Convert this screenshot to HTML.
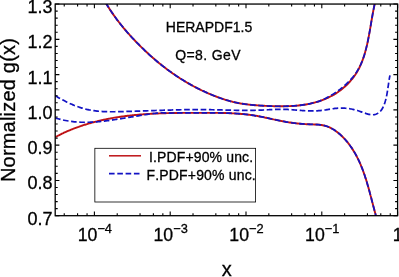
<!DOCTYPE html>
<html><head><meta charset="utf-8"><title>plot</title>
<style>html,body{margin:0;padding:0;background:#fff;}body{width:399px;height:277px;overflow:hidden;position:relative;font-family:"Liberation Sans",sans-serif;}</style>
</head><body>
<svg width="399" height="277" viewBox="0 0 399 277" style="position:absolute;left:0;top:0;will-change:transform">
<defs><clipPath id="c"><rect x="55.2" y="4.05" width="342.40000000000003" height="211.64999999999998"/></clipPath></defs>
<g clip-path="url(#c)" fill="none" stroke-linejoin="round">
<path d="M104.36,0.39C104.49,0.61 104.88,1.29 105.14,1.74C105.40,2.19 105.66,2.64 105.92,3.08C106.19,3.53 106.45,3.97 106.72,4.41C106.98,4.85 107.25,5.29 107.52,5.72C107.78,6.16 108.05,6.59 108.32,7.02C108.60,7.46 108.87,7.89 109.14,8.31C109.41,8.74 109.69,9.17 109.96,9.59C110.24,10.01 110.52,10.44 110.80,10.86C111.07,11.28 111.35,11.69 111.64,12.11C111.92,12.53 112.20,12.94 112.48,13.35C112.77,13.77 113.05,14.18 113.34,14.59C113.62,15.00 113.91,15.40 114.20,15.81C114.49,16.21 114.78,16.62 115.07,17.02C115.36,17.42 115.66,17.82 115.95,18.22C116.24,18.62 116.54,19.02 116.84,19.42C117.13,19.81 117.43,20.21 117.73,20.60C118.03,20.99 118.33,21.39 118.63,21.78C118.93,22.17 119.23,22.56 119.54,22.94C119.84,23.33 120.15,23.72 120.45,24.10C120.76,24.49 121.07,24.87 121.38,25.26C121.68,25.64 121.99,26.02 122.31,26.40C122.62,26.78 122.93,27.16 123.24,27.54C123.56,27.91 123.87,28.29 124.19,28.67C124.50,29.04 124.82,29.42 125.14,29.79C125.46,30.16 125.78,30.54 126.10,30.91C126.42,31.28 126.74,31.65 127.07,32.02C127.39,32.39 127.71,32.76 128.04,33.13C128.36,33.49 128.69,33.86 129.02,34.23C129.35,34.59 129.68,34.96 130.01,35.33C130.34,35.69 130.67,36.05 131.00,36.42C131.33,36.78 131.67,37.14 132.00,37.51C132.34,37.87 132.67,38.23 133.01,38.59C133.35,38.95 133.69,39.31 134.03,39.67C134.37,40.03 134.71,40.39 135.05,40.75C135.39,41.11 135.73,41.46 136.08,41.82C136.42,42.18 136.77,42.53 137.11,42.89C137.46,43.24 137.81,43.60 138.16,43.95C138.51,44.31 138.85,44.66 139.21,45.01C139.56,45.36 139.91,45.72 140.26,46.07C140.61,46.42 140.97,46.77 141.32,47.12C141.68,47.47 142.04,47.82 142.39,48.16C142.75,48.51 143.11,48.86 143.47,49.20C143.83,49.55 144.19,49.90 144.55,50.24C144.91,50.58 145.27,50.93 145.64,51.27C146.00,51.61 146.37,51.95 146.73,52.29C147.10,52.64 147.47,52.97 147.83,53.31C148.20,53.65 148.57,53.99 148.94,54.33C149.31,54.66 149.68,55.00 150.06,55.33C150.43,55.67 150.80,56.00 151.18,56.34C151.55,56.67 151.93,57.00 152.30,57.33C152.68,57.66 153.06,57.99 153.44,58.32C153.81,58.65 154.19,58.98 154.57,59.30C154.95,59.63 155.34,59.95 155.72,60.28C156.10,60.60 156.49,60.93 156.87,61.25C157.25,61.57 157.64,61.89 158.03,62.21C158.41,62.53 158.80,62.85 159.19,63.16C159.58,63.48 159.97,63.80 160.36,64.11C160.75,64.43 161.14,64.74 161.53,65.05C161.93,65.37 162.32,65.68 162.71,65.99C163.11,66.30 163.50,66.60 163.90,66.91C164.30,67.22 164.69,67.52 165.09,67.83C165.49,68.13 165.89,68.44 166.29,68.74C166.69,69.04 167.09,69.34 167.49,69.64C167.90,69.94 168.30,70.24 168.70,70.53C169.11,70.83 169.51,71.12 169.92,71.42C170.32,71.71 170.73,72.00 171.14,72.29C171.55,72.59 171.96,72.87 172.37,73.16C172.78,73.45 173.19,73.74 173.60,74.02C174.01,74.31 174.42,74.59 174.83,74.87C175.25,75.15 175.66,75.43 176.08,75.71C176.49,75.99 176.91,76.27 177.33,76.54C177.74,76.82 178.16,77.09 178.58,77.37C179.00,77.64 179.42,77.91 179.84,78.18C180.26,78.45 180.68,78.72 181.10,78.98C181.52,79.25 181.95,79.51 182.37,79.77C182.79,80.04 183.22,80.30 183.65,80.56C184.07,80.82 184.50,81.08 184.93,81.33C185.35,81.59 185.78,81.84 186.21,82.10C186.64,82.35 187.07,82.60 187.50,82.85C187.93,83.10 188.36,83.35 188.80,83.59C189.23,83.84 189.66,84.08 190.10,84.33C190.53,84.57 190.96,84.81 191.40,85.05C191.84,85.29 192.27,85.53 192.71,85.77C193.15,86.00 193.59,86.24 194.02,86.47C194.46,86.70 194.90,86.94 195.34,87.17C195.79,87.40 196.23,87.62 196.67,87.85C197.11,88.08 197.55,88.30 198.00,88.53C198.44,88.75 198.89,88.97 199.33,89.19C199.78,89.41 200.22,89.63 200.67,89.85C201.12,90.06 201.57,90.28 202.01,90.49C202.46,90.71 202.91,90.92 203.36,91.13C203.81,91.34 204.26,91.55 204.71,91.75C205.17,91.96 205.62,92.16 206.07,92.37C206.53,92.57 206.98,92.77 207.43,92.97C207.89,93.17 208.34,93.37 208.80,93.57C209.26,93.77 209.71,93.96 210.17,94.16C210.63,94.35 211.09,94.54 211.54,94.73C212.00,94.92 212.46,95.11 212.92,95.30C213.38,95.48 213.85,95.67 214.31,95.85C214.77,96.03 215.23,96.21 215.69,96.39C216.16,96.57 216.62,96.75 217.09,96.92C217.55,97.10 218.02,97.27 218.48,97.44C218.95,97.61 219.42,97.78 219.88,97.95C220.35,98.11 220.82,98.28 221.29,98.44C221.76,98.60 222.23,98.76 222.70,98.91C223.17,99.07 223.64,99.22 224.11,99.38C224.58,99.53 225.05,99.68 225.52,99.82C226.00,99.97 226.47,100.11 226.94,100.25C227.42,100.39 227.89,100.53 228.37,100.67C228.84,100.80 229.32,100.93 229.80,101.06C230.27,101.19 230.75,101.32 231.23,101.44C231.71,101.57 232.18,101.69 232.66,101.80C233.14,101.92 233.62,102.04 234.10,102.15C234.58,102.26 235.06,102.36 235.55,102.47C236.03,102.57 236.51,102.67 236.99,102.77C237.47,102.87 237.96,102.97 238.44,103.06C238.93,103.15 239.41,103.24 239.90,103.33C240.38,103.41 240.87,103.50 241.35,103.58C241.84,103.66 242.33,103.73 242.81,103.81C243.30,103.88 243.79,103.96 244.28,104.03C244.77,104.10 245.26,104.17 245.75,104.23C246.24,104.30 246.73,104.36 247.22,104.42C247.71,104.48 248.20,104.54 248.69,104.60C249.18,104.65 249.67,104.71 250.17,104.76C250.66,104.81 251.15,104.86 251.65,104.91C252.14,104.96 252.64,105.00 253.13,105.05C253.63,105.09 254.12,105.14 254.62,105.18C255.12,105.22 255.61,105.26 256.11,105.30C256.61,105.33 257.11,105.37 257.60,105.41C258.10,105.44 258.60,105.47 259.10,105.51C259.60,105.54 260.10,105.57 260.60,105.60C261.10,105.63 261.60,105.66 262.10,105.69C262.60,105.72 263.10,105.74 263.61,105.77C264.11,105.79 264.61,105.82 265.11,105.84C265.62,105.87 266.12,105.89 266.63,105.91C267.13,105.94 267.63,105.96 268.14,105.98C268.64,106.00 269.15,106.02 269.66,106.04C270.16,106.06 270.67,106.08 271.17,106.10C271.68,106.12 272.19,106.13 272.69,106.15C273.20,106.16 273.71,106.18 274.21,106.19C274.72,106.20 275.23,106.22 275.74,106.23C276.24,106.24 276.75,106.25 277.26,106.25C277.77,106.26 278.28,106.27 278.78,106.27C279.29,106.28 279.80,106.28 280.31,106.28C280.81,106.29 281.32,106.29 281.83,106.29C282.34,106.28 282.84,106.28 283.35,106.28C283.86,106.27 284.37,106.26 284.87,106.25C285.38,106.25 285.89,106.23 286.39,106.22C286.90,106.21 287.41,106.19 287.91,106.18C288.42,106.16 288.92,106.14 289.43,106.12C289.93,106.10 290.44,106.07 290.94,106.05C291.44,106.02 291.95,105.99 292.45,105.96C292.95,105.93 293.46,105.90 293.96,105.86C294.46,105.83 294.96,105.79 295.46,105.75C295.96,105.71 296.46,105.66 296.96,105.62C297.46,105.57 297.96,105.52 298.46,105.47C298.96,105.42 299.46,105.36 299.95,105.30C300.45,105.25 300.94,105.18 301.44,105.12C301.93,105.06 302.43,104.99 302.92,104.92C303.41,104.85 303.91,104.77 304.40,104.70C304.89,104.62 305.38,104.54 305.87,104.46C306.36,104.37 306.85,104.29 307.33,104.20C307.82,104.11 308.31,104.01 308.79,103.92C309.28,103.82 309.76,103.72 310.24,103.61C310.72,103.51 311.21,103.40 311.68,103.29C312.16,103.18 312.64,103.06 313.12,102.95C313.60,102.83 314.07,102.70 314.55,102.58C315.02,102.45 315.50,102.32 315.97,102.19C316.44,102.05 316.91,101.92 317.38,101.78C317.85,101.63 318.32,101.49 318.78,101.34C319.25,101.19 319.71,101.04 320.17,100.88C320.64,100.72 321.10,100.56 321.56,100.39C322.02,100.23 322.48,100.06 322.93,99.88C323.39,99.71 323.84,99.53 324.29,99.35C324.75,99.17 325.20,98.98 325.65,98.79C326.09,98.60 326.54,98.40 326.99,98.20C327.43,98.00 327.88,97.80 328.32,97.59C328.76,97.38 329.20,97.17 329.63,96.95C330.07,96.73 330.51,96.51 330.94,96.28C331.37,96.05 331.80,95.82 332.23,95.59C332.66,95.35 333.09,95.11 333.51,94.86C333.94,94.62 334.36,94.37 334.78,94.11C335.20,93.86 335.62,93.59 336.04,93.33C336.45,93.06 336.87,92.79 337.28,92.52C337.69,92.24 338.10,91.96 338.50,91.68C338.91,91.39 339.31,91.11 339.71,90.81C340.11,90.52 340.51,90.22 340.91,89.91C341.30,89.61 341.69,89.30 342.08,88.99C342.47,88.68 342.86,88.36 343.24,88.04C343.62,87.72 344.00,87.39 344.38,87.06C344.75,86.73 345.13,86.39 345.50,86.05C345.86,85.72 346.23,85.37 346.59,85.02C346.95,84.68 347.31,84.33 347.66,83.97C348.02,83.62 348.36,83.26 348.71,82.89C349.05,82.53 349.40,82.16 349.73,81.79C350.07,81.42 350.40,81.05 350.73,80.67C351.06,80.29 351.38,79.91 351.70,79.52C352.01,79.14 352.33,78.75 352.64,78.36C352.95,77.97 353.25,77.57 353.55,77.17C353.85,76.77 354.14,76.37 354.43,75.96C354.71,75.56 355.00,75.15 355.27,74.74C355.55,74.33 355.82,73.91 356.09,73.49C356.36,73.07 356.62,72.65 356.87,72.23C357.13,71.81 357.38,71.38 357.62,70.95C357.86,70.52 358.10,70.09 358.34,69.65C358.57,69.22 358.80,68.78 359.02,68.34C359.25,67.90 359.47,67.46 359.68,67.01C359.90,66.56 360.11,66.12 360.31,65.67C360.52,65.22 360.72,64.76 360.92,64.31C361.11,63.85 361.31,63.40 361.50,62.94C361.68,62.48 361.87,62.02 362.05,61.55C362.23,61.09 362.41,60.62 362.58,60.16C362.75,59.69 362.92,59.22 363.09,58.75C363.25,58.28 363.41,57.81 363.57,57.33C363.73,56.86 363.89,56.38 364.04,55.90C364.19,55.42 364.34,54.94 364.49,54.46C364.63,53.98 364.77,53.50 364.92,53.01C365.06,52.53 365.19,52.05 365.33,51.56C365.46,51.07 365.59,50.58 365.72,50.10C365.85,49.61 365.98,49.12 366.11,48.62C366.23,48.13 366.35,47.64 366.47,47.15C366.60,46.65 366.71,46.16 366.83,45.66C366.95,45.17 367.06,44.67 367.17,44.18C367.28,43.68 367.39,43.18 367.50,42.68C367.61,42.19 367.72,41.69 367.82,41.19C367.93,40.69 368.03,40.19 368.13,39.69C368.23,39.19 368.33,38.69 368.43,38.19C368.53,37.68 368.63,37.18 368.73,36.68C368.82,36.18 368.92,35.68 369.01,35.18C369.10,34.67 369.20,34.17 369.29,33.67C369.38,33.17 369.47,32.67 369.56,32.16C369.65,31.66 369.74,31.16 369.83,30.66C369.91,30.16 370.00,29.66 370.09,29.15C370.17,28.65 370.26,28.15 370.35,27.65C370.43,27.15 370.52,26.65 370.60,26.15C370.68,25.65 370.77,25.16 370.85,24.66C370.94,24.16 371.02,23.66 371.10,23.17C371.19,22.67 371.27,22.17 371.36,21.68C371.44,21.18 371.52,20.69 371.61,20.20C371.69,19.70 371.77,19.21 371.86,18.72C371.94,18.23 372.03,17.74 372.11,17.25C372.20,16.76 372.28,16.27 372.37,15.79C372.46,15.30 372.54,14.81 372.63,14.33C372.72,13.85 372.80,13.37 372.89,12.88C372.98,12.40 373.07,11.92 373.16,11.45C373.25,10.97 373.34,10.49 373.44,10.02C373.53,9.54 373.62,9.07 373.72,8.60C373.81,8.13 373.91,7.66 374.00,7.19C374.10,6.73 374.20,6.26 374.30,5.80C374.40,5.34 374.50,4.88 374.60,4.42C374.71,3.96 374.81,3.50 374.91,3.05C375.02,2.59 375.13,2.14 375.24,1.69C375.35,1.24 375.51,0.57 375.57,0.35" stroke="#be1216" stroke-width="1.9"/>
<path d="M55.18,137.14C55.41,137.02 56.08,136.66 56.53,136.43C56.97,136.19 57.42,135.96 57.87,135.73C58.32,135.50 58.77,135.27 59.23,135.05C59.68,134.82 60.13,134.60 60.58,134.38C61.03,134.16 61.49,133.94 61.94,133.72C62.40,133.50 62.85,133.29 63.31,133.08C63.76,132.86 64.22,132.65 64.67,132.45C65.13,132.24 65.59,132.03 66.05,131.83C66.50,131.63 66.96,131.42 67.42,131.23C67.88,131.03 68.34,130.83 68.80,130.63C69.26,130.44 69.72,130.25 70.18,130.06C70.65,129.87 71.11,129.68 71.57,129.49C72.03,129.30 72.50,129.12 72.96,128.94C73.42,128.75 73.89,128.57 74.35,128.40C74.82,128.22 75.29,128.04 75.75,127.87C76.22,127.69 76.68,127.52 77.15,127.35C77.62,127.18 78.09,127.01 78.56,126.85C79.02,126.68 79.49,126.51 79.96,126.35C80.43,126.19 80.90,126.03 81.37,125.87C81.85,125.71 82.32,125.56 82.79,125.40C83.26,125.25 83.73,125.09 84.21,124.94C84.68,124.79 85.15,124.64 85.63,124.50C86.10,124.35 86.57,124.20 87.05,124.06C87.52,123.92 88.00,123.77 88.47,123.63C88.95,123.49 89.43,123.36 89.90,123.22C90.38,123.08 90.86,122.95 91.34,122.82C91.81,122.68 92.29,122.55 92.77,122.42C93.25,122.29 93.73,122.16 94.21,122.04C94.69,121.91 95.17,121.79 95.65,121.67C96.13,121.54 96.61,121.42 97.09,121.30C97.57,121.18 98.05,121.07 98.54,120.95C99.02,120.84 99.50,120.72 99.98,120.61C100.47,120.50 100.95,120.39 101.43,120.28C101.92,120.17 102.40,120.06 102.89,119.95C103.37,119.85 103.86,119.74 104.34,119.64C104.83,119.54 105.31,119.43 105.80,119.33C106.29,119.23 106.77,119.14 107.26,119.04C107.75,118.94 108.23,118.85 108.72,118.75C109.21,118.66 109.70,118.56 110.19,118.47C110.67,118.38 111.16,118.29 111.65,118.20C112.14,118.12 112.63,118.03 113.12,117.94C113.61,117.86 114.10,117.78 114.59,117.69C115.08,117.61 115.57,117.53 116.06,117.45C116.55,117.37 117.04,117.29 117.54,117.21C118.03,117.14 118.52,117.06 119.01,116.99C119.50,116.91 120.00,116.84 120.49,116.77C120.98,116.70 121.48,116.62 121.97,116.56C122.46,116.49 122.96,116.42 123.45,116.35C123.94,116.28 124.44,116.22 124.93,116.15C125.43,116.09 125.92,116.03 126.42,115.97C126.91,115.90 127.41,115.84 127.90,115.78C128.40,115.72 128.89,115.67 129.39,115.61C129.89,115.55 130.38,115.50 130.88,115.44C131.38,115.39 131.87,115.33 132.37,115.28C132.87,115.23 133.36,115.18 133.86,115.13C134.36,115.08 134.85,115.03 135.35,114.98C135.85,114.93 136.35,114.88 136.85,114.84C137.34,114.79 137.84,114.74 138.34,114.70C138.84,114.66 139.34,114.61 139.84,114.57C140.33,114.53 140.83,114.49 141.33,114.45C141.83,114.41 142.33,114.37 142.83,114.33C143.33,114.29 143.83,114.26 144.33,114.22C144.83,114.18 145.33,114.15 145.83,114.11C146.33,114.08 146.83,114.05 147.33,114.01C147.83,113.98 148.33,113.95 148.83,113.92C149.33,113.89 149.83,113.86 150.33,113.83C150.83,113.80 151.33,113.77 151.83,113.74C152.33,113.71 152.83,113.69 153.34,113.66C153.84,113.64 154.34,113.61 154.84,113.59C155.34,113.56 155.84,113.54 156.34,113.51C156.84,113.49 157.35,113.47 157.85,113.45C158.35,113.43 158.85,113.41 159.35,113.39C159.85,113.37 160.35,113.35 160.86,113.33C161.36,113.31 161.86,113.29 162.36,113.27C162.86,113.26 163.36,113.24 163.87,113.22C164.37,113.21 164.87,113.19 165.37,113.18C165.87,113.16 166.37,113.15 166.88,113.13C167.38,113.12 167.88,113.11 168.38,113.10C168.88,113.08 169.38,113.07 169.89,113.06C170.39,113.05 170.89,113.04 171.39,113.03C171.89,113.02 172.40,113.01 172.90,113.00C173.40,112.99 173.90,112.98 174.40,112.97C174.90,112.96 175.40,112.95 175.91,112.95C176.41,112.94 176.91,112.93 177.41,112.93C177.91,112.92 178.41,112.91 178.91,112.91C179.42,112.90 179.92,112.90 180.42,112.89C180.92,112.89 181.42,112.88 181.92,112.88C182.42,112.87 182.92,112.87 183.42,112.86C183.92,112.86 184.42,112.86 184.92,112.85C185.42,112.85 185.92,112.85 186.43,112.85C186.93,112.84 187.43,112.84 187.93,112.84C188.43,112.84 188.93,112.84 189.43,112.84C189.92,112.83 190.42,112.83 190.92,112.83C191.42,112.83 191.92,112.83 192.42,112.83C192.92,112.83 193.42,112.83 193.92,112.83C194.42,112.83 194.92,112.83 195.41,112.83C195.91,112.83 196.41,112.83 196.91,112.83C197.41,112.83 197.91,112.83 198.40,112.83C198.90,112.83 199.40,112.83 199.90,112.83C200.39,112.83 200.89,112.83 201.39,112.84C201.89,112.84 202.38,112.84 202.88,112.84C203.37,112.84 203.87,112.84 204.37,112.84C204.86,112.84 205.36,112.84 205.85,112.84C206.35,112.85 206.85,112.85 207.34,112.85C207.84,112.85 208.33,112.85 208.83,112.85C209.32,112.85 209.82,112.85 210.31,112.86C210.80,112.86 211.30,112.86 211.79,112.86C212.29,112.86 212.78,112.87 213.27,112.87C213.77,112.87 214.26,112.88 214.75,112.88C215.25,112.88 215.74,112.89 216.23,112.89C216.73,112.90 217.22,112.90 217.71,112.91C218.20,112.92 218.70,112.92 219.19,112.93C219.68,112.94 220.17,112.94 220.66,112.95C221.16,112.96 221.65,112.97 222.14,112.98C222.63,112.99 223.12,113.00 223.62,113.01C224.11,113.02 224.60,113.04 225.09,113.05C225.58,113.06 226.07,113.08 226.56,113.09C227.05,113.11 227.55,113.12 228.04,113.14C228.53,113.16 229.02,113.18 229.51,113.20C230.00,113.22 230.49,113.24 230.98,113.26C231.47,113.28 231.96,113.31 232.45,113.33C232.94,113.36 233.43,113.38 233.92,113.41C234.41,113.44 234.91,113.46 235.40,113.49C235.89,113.52 236.38,113.56 236.87,113.59C237.36,113.62 237.85,113.66 238.34,113.69C238.83,113.73 239.32,113.77 239.81,113.80C240.30,113.84 240.79,113.88 241.28,113.93C241.77,113.97 242.26,114.01 242.75,114.06C243.24,114.11 243.73,114.15 244.22,114.20C244.71,114.25 245.20,114.30 245.69,114.36C246.18,114.41 246.67,114.47 247.16,114.52C247.65,114.58 248.14,114.64 248.63,114.70C249.12,114.76 249.61,114.83 250.11,114.89C250.60,114.96 251.09,115.03 251.58,115.10C252.07,115.17 252.56,115.24 253.05,115.31C253.54,115.39 254.03,115.46 254.52,115.54C255.01,115.62 255.51,115.70 256.00,115.79C256.49,115.87 256.98,115.96 257.47,116.04C257.96,116.13 258.45,116.22 258.95,116.31C259.44,116.40 259.93,116.50 260.42,116.59C260.91,116.69 261.41,116.78 261.90,116.88C262.39,116.98 262.88,117.08 263.37,117.18C263.87,117.28 264.36,117.38 264.85,117.49C265.35,117.59 265.84,117.69 266.33,117.80C266.82,117.90 267.32,118.01 267.81,118.11C268.31,118.22 268.80,118.33 269.29,118.43C269.79,118.54 270.28,118.65 270.78,118.75C271.27,118.86 271.76,118.97 272.26,119.08C272.75,119.18 273.25,119.29 273.74,119.40C274.24,119.50 274.73,119.61 275.23,119.72C275.72,119.82 276.22,119.93 276.72,120.03C277.21,120.14 277.71,120.24 278.21,120.35C278.70,120.45 279.20,120.55 279.70,120.66C280.19,120.76 280.69,120.86 281.19,120.96C281.69,121.06 282.18,121.15 282.68,121.25C283.18,121.35 283.68,121.44 284.18,121.54C284.67,121.63 285.17,121.72 285.67,121.81C286.17,121.90 286.67,121.99 287.17,122.07C287.67,122.16 288.17,122.24 288.67,122.32C289.17,122.41 289.67,122.48 290.17,122.56C290.68,122.64 291.18,122.71 291.68,122.78C292.18,122.85 292.68,122.92 293.18,122.99C293.69,123.05 294.19,123.12 294.69,123.18C295.19,123.24 295.70,123.29 296.20,123.35C296.70,123.41 297.21,123.46 297.71,123.51C298.21,123.56 298.71,123.61 299.22,123.65C299.72,123.70 300.22,123.74 300.72,123.79C301.22,123.83 301.73,123.87 302.23,123.90C302.73,123.94 303.23,123.97 303.73,124.01C304.23,124.04 304.73,124.07 305.23,124.10C305.73,124.13 306.22,124.16 306.72,124.18C307.22,124.21 307.71,124.23 308.21,124.25C308.71,124.27 309.20,124.29 309.70,124.31C310.19,124.33 310.68,124.34 311.17,124.36C311.67,124.37 312.16,124.39 312.65,124.40C313.14,124.42 313.63,124.43 314.11,124.44C314.60,124.46 315.09,124.48 315.57,124.50C316.05,124.52 316.54,124.54 317.02,124.57C317.50,124.60 317.98,124.63 318.46,124.67C318.94,124.71 319.41,124.75 319.89,124.80C320.36,124.86 320.84,124.91 321.31,124.98C321.78,125.05 322.25,125.13 322.72,125.22C323.19,125.30 323.65,125.40 324.12,125.51C324.58,125.62 325.04,125.74 325.50,125.88C325.96,126.01 326.42,126.16 326.87,126.31C327.33,126.47 327.78,126.64 328.23,126.82C328.68,127.01 329.13,127.20 329.57,127.40C330.01,127.60 330.45,127.82 330.89,128.04C331.33,128.26 331.76,128.50 332.19,128.74C332.62,128.98 333.05,129.23 333.47,129.49C333.90,129.75 334.31,130.02 334.73,130.30C335.14,130.57 335.56,130.86 335.96,131.15C336.37,131.44 336.77,131.74 337.17,132.05C337.57,132.35 337.96,132.67 338.35,132.98C338.74,133.30 339.13,133.63 339.51,133.96C339.89,134.29 340.27,134.62 340.64,134.96C341.02,135.30 341.38,135.65 341.75,135.99C342.11,136.34 342.47,136.70 342.83,137.05C343.18,137.41 343.53,137.77 343.88,138.13C344.22,138.49 344.56,138.86 344.90,139.23C345.24,139.60 345.57,139.97 345.90,140.34C346.23,140.72 346.55,141.10 346.87,141.48C347.19,141.86 347.50,142.24 347.82,142.63C348.13,143.02 348.43,143.41 348.74,143.80C349.04,144.19 349.34,144.59 349.63,144.99C349.93,145.38 350.22,145.78 350.50,146.19C350.79,146.59 351.07,147.00 351.35,147.41C351.63,147.81 351.91,148.23 352.18,148.64C352.45,149.05 352.72,149.47 352.98,149.89C353.25,150.30 353.51,150.73 353.77,151.15C354.02,151.57 354.28,152.00 354.53,152.42C354.78,152.85 355.03,153.28 355.27,153.71C355.51,154.15 355.75,154.58 355.99,155.02C356.23,155.45 356.46,155.89 356.69,156.33C356.92,156.77 357.15,157.21 357.37,157.66C357.60,158.10 357.82,158.55 358.04,158.99C358.26,159.44 358.47,159.89 358.69,160.34C358.90,160.79 359.11,161.24 359.32,161.70C359.52,162.15 359.73,162.61 359.93,163.07C360.13,163.52 360.33,163.98 360.53,164.44C360.72,164.90 360.92,165.37 361.11,165.83C361.30,166.29 361.49,166.76 361.67,167.22C361.86,167.69 362.04,168.16 362.23,168.63C362.41,169.10 362.59,169.57 362.76,170.04C362.94,170.51 363.12,170.98 363.29,171.45C363.46,171.93 363.63,172.40 363.80,172.88C363.97,173.35 364.14,173.83 364.30,174.30C364.47,174.78 364.63,175.26 364.79,175.74C364.95,176.22 365.11,176.70 365.27,177.18C365.43,177.66 365.58,178.14 365.74,178.62C365.89,179.10 366.04,179.58 366.19,180.07C366.34,180.55 366.49,181.03 366.64,181.52C366.79,182.00 366.93,182.48 367.08,182.97C367.22,183.45 367.37,183.94 367.51,184.42C367.65,184.91 367.79,185.39 367.93,185.88C368.07,186.37 368.21,186.85 368.35,187.34C368.49,187.82 368.62,188.31 368.76,188.80C368.89,189.28 369.03,189.77 369.16,190.26C369.29,190.74 369.43,191.23 369.56,191.72C369.69,192.20 369.82,192.69 369.95,193.18C370.08,193.66 370.21,194.15 370.34,194.63C370.47,195.12 370.60,195.60 370.72,196.09C370.85,196.57 370.98,197.06 371.11,197.54C371.23,198.03 371.36,198.51 371.48,198.99C371.61,199.48 371.73,199.96 371.86,200.44C371.99,200.93 372.11,201.41 372.23,201.89C372.36,202.37 372.48,202.85 372.61,203.33C372.73,203.81 372.86,204.29 372.98,204.76C373.11,205.24 373.23,205.72 373.36,206.19C373.48,206.67 373.60,207.15 373.73,207.62C373.85,208.09 373.98,208.57 374.10,209.04C374.23,209.51 374.36,209.98 374.48,210.45C374.61,210.92 374.73,211.39 374.86,211.86C374.99,212.32 375.11,212.79 375.24,213.26C375.37,213.72 375.50,214.18 375.63,214.65C375.76,215.11 375.89,215.57 376.02,216.03C376.15,216.49 376.28,216.94 376.41,217.40C376.54,217.86 376.74,218.53 376.81,218.76" stroke="#be1216" stroke-width="1.9"/>
<path d="M104.36,0.39C104.49,0.61 104.88,1.29 105.14,1.74C105.40,2.19 105.66,2.64 105.92,3.08C106.19,3.53 106.45,3.97 106.72,4.41C106.98,4.85 107.25,5.29 107.52,5.72C107.78,6.16 108.05,6.59 108.32,7.02C108.60,7.46 108.87,7.89 109.14,8.31C109.41,8.74 109.69,9.17 109.96,9.59C110.24,10.01 110.52,10.44 110.80,10.86C111.07,11.28 111.35,11.69 111.64,12.11C111.92,12.53 112.20,12.94 112.48,13.35C112.77,13.77 113.05,14.18 113.34,14.59C113.62,15.00 113.91,15.40 114.20,15.81C114.49,16.21 114.78,16.62 115.07,17.02C115.36,17.42 115.66,17.82 115.95,18.22C116.24,18.62 116.54,19.02 116.84,19.42C117.13,19.81 117.43,20.21 117.73,20.60C118.03,20.99 118.33,21.39 118.63,21.78C118.93,22.17 119.23,22.56 119.54,22.94C119.84,23.33 120.15,23.72 120.45,24.10C120.76,24.49 121.07,24.87 121.38,25.26C121.68,25.64 121.99,26.02 122.31,26.40C122.62,26.78 122.93,27.16 123.24,27.54C123.56,27.91 123.87,28.29 124.19,28.67C124.50,29.04 124.82,29.42 125.14,29.79C125.46,30.16 125.78,30.54 126.10,30.91C126.42,31.28 126.74,31.65 127.07,32.02C127.39,32.39 127.71,32.76 128.04,33.13C128.36,33.49 128.69,33.86 129.02,34.23C129.35,34.59 129.68,34.96 130.01,35.33C130.34,35.69 130.67,36.05 131.00,36.42C131.33,36.78 131.67,37.14 132.00,37.51C132.34,37.87 132.67,38.23 133.01,38.59C133.35,38.95 133.69,39.31 134.03,39.67C134.37,40.03 134.71,40.39 135.05,40.75C135.39,41.11 135.73,41.46 136.08,41.82C136.42,42.18 136.77,42.53 137.11,42.89C137.46,43.24 137.81,43.60 138.16,43.95C138.51,44.31 138.85,44.66 139.21,45.01C139.56,45.36 139.91,45.72 140.26,46.07C140.61,46.42 140.97,46.77 141.32,47.12C141.68,47.47 142.04,47.82 142.39,48.16C142.75,48.51 143.11,48.86 143.47,49.20C143.83,49.55 144.19,49.90 144.55,50.24C144.91,50.58 145.27,50.93 145.64,51.27C146.00,51.61 146.37,51.95 146.73,52.29C147.10,52.64 147.47,52.97 147.83,53.31C148.20,53.65 148.57,53.99 148.94,54.33C149.31,54.66 149.68,55.00 150.06,55.33C150.43,55.67 150.80,56.00 151.18,56.34C151.55,56.67 151.93,57.00 152.30,57.33C152.68,57.66 153.06,57.99 153.44,58.32C153.81,58.65 154.19,58.98 154.57,59.30C154.95,59.63 155.34,59.95 155.72,60.28C156.10,60.60 156.49,60.93 156.87,61.25C157.25,61.57 157.64,61.89 158.03,62.21C158.41,62.53 158.80,62.85 159.19,63.16C159.58,63.48 159.97,63.80 160.36,64.11C160.75,64.43 161.14,64.74 161.53,65.05C161.93,65.37 162.32,65.68 162.71,65.99C163.11,66.30 163.50,66.60 163.90,66.91C164.30,67.22 164.69,67.52 165.09,67.83C165.49,68.13 165.89,68.44 166.29,68.74C166.69,69.04 167.09,69.34 167.49,69.64C167.90,69.94 168.30,70.24 168.70,70.53C169.11,70.83 169.51,71.12 169.92,71.42C170.32,71.71 170.73,72.00 171.14,72.29C171.55,72.59 171.96,72.87 172.37,73.16C172.78,73.45 173.19,73.74 173.60,74.02C174.01,74.31 174.42,74.59 174.83,74.87C175.25,75.15 175.66,75.43 176.08,75.71C176.49,75.99 176.91,76.27 177.33,76.54C177.74,76.82 178.16,77.09 178.58,77.37C179.00,77.64 179.42,77.91 179.84,78.18C180.26,78.45 180.68,78.72 181.10,78.98C181.52,79.25 181.95,79.51 182.37,79.77C182.79,80.04 183.22,80.30 183.65,80.56C184.07,80.82 184.50,81.08 184.93,81.33C185.35,81.59 185.78,81.84 186.21,82.10C186.64,82.35 187.07,82.60 187.50,82.85C187.93,83.10 188.36,83.35 188.80,83.59C189.23,83.84 189.66,84.08 190.10,84.33C190.53,84.57 190.96,84.81 191.40,85.05C191.84,85.29 192.27,85.53 192.71,85.77C193.15,86.00 193.59,86.24 194.02,86.47C194.46,86.70 194.90,86.94 195.34,87.17C195.79,87.40 196.23,87.62 196.67,87.85C197.11,88.08 197.55,88.30 198.00,88.53C198.44,88.75 198.89,88.97 199.33,89.19C199.78,89.41 200.22,89.63 200.67,89.85C201.12,90.06 201.57,90.28 202.01,90.49C202.46,90.71 202.91,90.92 203.36,91.13C203.81,91.34 204.26,91.55 204.71,91.75C205.17,91.96 205.62,92.16 206.07,92.37C206.53,92.57 206.98,92.77 207.43,92.97C207.89,93.17 208.34,93.37 208.80,93.57C209.26,93.77 209.71,93.96 210.17,94.16C210.63,94.35 211.09,94.54 211.54,94.73C212.00,94.92 212.46,95.11 212.92,95.30C213.38,95.48 213.85,95.67 214.31,95.85C214.77,96.03 215.23,96.21 215.69,96.39C216.16,96.57 216.62,96.75 217.09,96.92C217.55,97.10 218.02,97.27 218.48,97.44C218.95,97.61 219.42,97.78 219.88,97.95C220.35,98.11 220.82,98.28 221.29,98.44C221.76,98.60 222.23,98.76 222.70,98.91C223.17,99.07 223.64,99.22 224.11,99.38C224.58,99.53 225.05,99.68 225.52,99.82C226.00,99.97 226.47,100.11 226.94,100.25C227.42,100.39 227.89,100.53 228.37,100.67C228.84,100.80 229.32,100.93 229.80,101.06C230.27,101.19 230.75,101.32 231.23,101.44C231.71,101.57 232.18,101.69 232.66,101.80C233.14,101.92 233.62,102.04 234.10,102.15C234.58,102.26 235.06,102.36 235.55,102.47C236.03,102.57 236.51,102.67 236.99,102.77C237.47,102.87 237.96,102.97 238.44,103.06C238.93,103.15 239.41,103.24 239.90,103.33C240.38,103.41 240.87,103.50 241.35,103.58C241.84,103.66 242.33,103.73 242.81,103.81C243.30,103.88 243.79,103.96 244.28,104.03C244.77,104.10 245.26,104.17 245.75,104.23C246.24,104.30 246.73,104.36 247.22,104.42C247.71,104.48 248.20,104.54 248.69,104.60C249.18,104.65 249.67,104.71 250.17,104.76C250.66,104.81 251.15,104.86 251.65,104.91C252.14,104.96 252.64,105.00 253.13,105.05C253.63,105.09 254.12,105.14 254.62,105.18C255.12,105.22 255.61,105.26 256.11,105.30C256.61,105.33 257.11,105.37 257.60,105.41C258.10,105.44 258.60,105.47 259.10,105.51C259.60,105.54 260.10,105.57 260.60,105.60C261.10,105.63 261.60,105.66 262.10,105.69C262.60,105.72 263.10,105.74 263.61,105.77C264.11,105.79 264.61,105.82 265.11,105.84C265.62,105.87 266.12,105.89 266.63,105.91C267.13,105.94 267.63,105.96 268.14,105.98C268.64,106.00 269.15,106.02 269.66,106.04C270.16,106.06 270.67,106.08 271.17,106.10C271.68,106.12 272.19,106.13 272.69,106.15C273.20,106.16 273.71,106.18 274.21,106.19C274.72,106.20 275.23,106.22 275.74,106.23C276.24,106.24 276.75,106.25 277.26,106.25C277.77,106.26 278.28,106.27 278.78,106.27C279.29,106.28 279.80,106.28 280.31,106.28C280.81,106.29 281.32,106.29 281.83,106.29C282.34,106.28 282.84,106.28 283.35,106.28C283.86,106.27 284.37,106.26 284.87,106.25C285.38,106.25 285.89,106.23 286.39,106.22C286.90,106.21 287.41,106.19 287.91,106.18C288.42,106.16 288.92,106.14 289.43,106.12C289.93,106.10 290.44,106.07 290.94,106.05C291.44,106.02 291.95,105.99 292.45,105.96C292.95,105.93 293.46,105.90 293.96,105.86C294.46,105.83 294.96,105.79 295.46,105.75C295.96,105.71 296.46,105.66 296.96,105.62C297.46,105.57 297.96,105.52 298.46,105.47C298.96,105.42 299.46,105.36 299.95,105.30C300.45,105.25 300.94,105.18 301.44,105.12C301.93,105.06 302.43,104.99 302.92,104.92C303.41,104.85 303.91,104.77 304.40,104.70C304.89,104.62 305.38,104.54 305.87,104.46C306.36,104.37 306.85,104.29 307.33,104.20C307.82,104.11 308.31,104.01 308.79,103.92C309.28,103.82 309.76,103.72 310.24,103.61C310.72,103.51 311.21,103.40 311.68,103.29C312.16,103.18 312.64,103.06 313.12,102.95C313.60,102.83 314.07,102.70 314.55,102.58C315.02,102.45 315.50,102.32 315.97,102.19C316.44,102.05 316.91,101.92 317.38,101.78C317.85,101.63 318.32,101.49 318.78,101.34C319.25,101.19 319.72,101.04 320.17,100.87C320.62,100.69 321.05,100.49 321.49,100.29C321.93,100.10 322.37,99.90 322.81,99.70C323.25,99.50 323.69,99.29 324.12,99.08C324.56,98.87 324.99,98.66 325.42,98.44C325.85,98.22 326.28,98.00 326.71,97.78C327.14,97.55 327.57,97.32 328.00,97.09C328.42,96.86 328.85,96.63 329.27,96.39C329.70,96.15 330.12,95.91 330.54,95.66C330.96,95.41 331.38,95.16 331.80,94.91C332.22,94.66 332.63,94.40 333.05,94.14C333.46,93.88 333.88,93.62 334.29,93.35C334.70,93.08 335.11,92.81 335.52,92.54C335.93,92.26 336.34,91.98 336.75,91.70C337.15,91.42 337.56,91.13 337.96,90.84C338.36,90.55 338.77,90.26 339.16,89.96C339.56,89.67 339.96,89.37 340.36,89.06C340.75,88.76 341.14,88.45 341.53,88.14C341.92,87.83 342.31,87.52 342.70,87.20C343.08,86.88 343.47,86.56 343.85,86.24C344.23,85.91 344.60,85.58 344.98,85.25C345.35,84.92 345.72,84.59 346.09,84.25C346.45,83.91 346.82,83.57 347.18,83.22C347.54,82.88 347.90,82.53 348.25,82.18C348.60,81.83 348.95,81.48 349.30,81.12C349.64,80.76 349.98,80.40 350.32,80.03C350.65,79.67 350.99,79.30 351.31,78.93C351.64,78.56 351.96,78.19 352.28,77.81C352.60,77.43 352.91,77.05 353.22,76.67C353.53,76.28 353.83,75.90 354.13,75.51C354.43,75.12 354.72,74.72 355.01,74.33C355.30,73.93 355.58,73.53 355.85,73.13C356.13,72.73 356.40,72.32 356.66,71.91C356.93,71.50 357.19,71.09 357.44,70.68C357.70,70.26 357.94,69.84 358.19,69.42C358.43,69.00 358.67,68.58 358.90,68.15C359.14,67.72 359.36,67.30 359.59,66.86C359.81,66.43 360.03,66.00 360.24,65.56C360.46,65.12 360.67,64.68 360.87,64.24C361.08,63.80 361.28,63.35 361.47,62.91C361.67,62.46 361.86,62.01 362.05,61.55C362.23,61.10 362.41,60.62 362.58,60.16C362.75,59.69 362.92,59.22 363.09,58.75C363.25,58.28 363.41,57.81 363.57,57.33C363.73,56.86 363.89,56.38 364.04,55.90C364.19,55.42 364.34,54.94 364.49,54.46C364.63,53.98 364.77,53.50 364.92,53.01C365.06,52.53 365.19,52.05 365.33,51.56C365.46,51.07 365.59,50.58 365.72,50.10C365.85,49.61 365.98,49.12 366.11,48.62C366.23,48.13 366.35,47.64 366.47,47.15C366.60,46.65 366.71,46.16 366.83,45.66C366.95,45.17 367.06,44.67 367.17,44.18C367.28,43.68 367.39,43.18 367.50,42.68C367.61,42.19 367.72,41.69 367.82,41.19C367.93,40.69 368.03,40.19 368.13,39.69C368.23,39.19 368.33,38.69 368.43,38.19C368.53,37.68 368.63,37.18 368.73,36.68C368.82,36.18 368.92,35.68 369.01,35.18C369.10,34.67 369.20,34.17 369.29,33.67C369.38,33.17 369.47,32.67 369.56,32.16C369.65,31.66 369.74,31.16 369.83,30.66C369.91,30.16 370.00,29.66 370.09,29.15C370.17,28.65 370.26,28.15 370.35,27.65C370.43,27.15 370.52,26.65 370.60,26.15C370.68,25.65 370.77,25.16 370.85,24.66C370.94,24.16 371.02,23.66 371.10,23.17C371.19,22.67 371.27,22.17 371.36,21.68C371.44,21.18 371.52,20.69 371.61,20.20C371.69,19.70 371.77,19.21 371.86,18.72C371.94,18.23 372.03,17.74 372.11,17.25C372.20,16.76 372.28,16.27 372.37,15.79C372.46,15.30 372.54,14.81 372.63,14.33C372.72,13.85 372.80,13.37 372.89,12.88C372.98,12.40 373.07,11.92 373.16,11.45C373.25,10.97 373.34,10.49 373.44,10.02C373.53,9.54 373.62,9.07 373.72,8.60C373.81,8.13 373.91,7.66 374.00,7.19C374.10,6.73 374.20,6.26 374.30,5.80C374.40,5.34 374.50,4.88 374.60,4.42C374.71,3.96 374.81,3.50 374.91,3.05C375.02,2.59 375.13,2.14 375.24,1.69C375.35,1.24 375.51,0.57 375.57,0.35" stroke="#1212c4" stroke-width="1.7" stroke-dasharray="5.7 2.6" stroke-dashoffset="-2.5"/>
<path d="M55.12,117.88C55.37,117.96 56.11,118.19 56.60,118.34C57.10,118.49 57.59,118.63 58.08,118.77C58.58,118.90 59.07,119.04 59.57,119.17C60.06,119.30 60.55,119.42 61.05,119.54C61.54,119.66 62.03,119.78 62.53,119.89C63.02,120.00 63.51,120.11 64.01,120.21C64.50,120.31 64.99,120.41 65.49,120.51C65.98,120.60 66.47,120.69 66.97,120.78C67.46,120.86 67.95,120.94 68.45,121.02C68.94,121.10 69.43,121.17 69.93,121.24C70.42,121.31 70.91,121.38 71.41,121.44C71.90,121.51 72.39,121.57 72.89,121.62C73.38,121.68 73.87,121.73 74.37,121.78C74.86,121.82 75.35,121.87 75.85,121.91C76.34,121.95 76.83,121.99 77.33,122.02C77.82,122.06 78.31,122.09 78.80,122.11C79.30,122.14 79.79,122.16 80.28,122.19C80.78,122.21 81.27,122.22 81.76,122.24C82.26,122.25 82.75,122.27 83.24,122.27C83.73,122.28 84.23,122.29 84.72,122.29C85.21,122.29 85.71,122.29 86.20,122.29C86.69,122.29 87.18,122.28 87.68,122.27C88.17,122.26 88.66,122.25 89.16,122.24C89.65,122.23 90.14,122.21 90.63,122.19C91.13,122.17 91.62,122.15 92.11,122.13C92.61,122.10 93.10,122.08 93.59,122.05C94.08,122.02 94.58,121.99 95.07,121.95C95.56,121.92 96.06,121.89 96.55,121.85C97.04,121.81 97.53,121.77 98.03,121.73C98.52,121.69 99.01,121.64 99.51,121.60C100.00,121.55 100.49,121.50 100.98,121.45C101.48,121.41 101.97,121.35 102.46,121.30C102.96,121.25 103.45,121.19 103.94,121.14C104.43,121.08 104.93,121.02 105.42,120.96C105.91,120.90 106.41,120.84 106.90,120.78C107.39,120.72 107.88,120.65 108.38,120.59C108.87,120.52 109.36,120.46 109.86,120.39C110.35,120.32 110.84,120.25 111.33,120.18C111.83,120.11 112.32,120.04 112.81,119.96C113.31,119.89 113.80,119.82 114.29,119.74C114.79,119.67 115.28,119.59 115.77,119.52C116.26,119.44 116.76,119.36 117.25,119.28C117.74,119.21 118.24,119.13 118.73,119.05C119.22,118.97 119.72,118.89 120.21,118.81C120.70,118.73 121.20,118.64 121.69,118.56C122.18,118.48 122.68,118.40 123.17,118.31C123.66,118.23 124.16,118.15 124.65,118.06C125.14,117.98 125.64,117.90 126.13,117.81C126.62,117.73 127.12,117.64 127.61,117.56C128.10,117.48 128.60,117.39 129.09,117.31C129.58,117.22 130.08,117.14 130.57,117.05C131.06,116.97 131.56,116.88 132.05,116.80C132.55,116.72 133.04,116.63 133.53,116.55C134.03,116.47 134.52,116.38 135.01,116.30C135.51,116.22 136.00,116.13 136.50,116.05C136.99,115.97 137.48,115.89 137.98,115.81C138.47,115.72 138.97,115.64 139.46,115.56C139.95,115.48 140.45,115.41 140.94,115.33C141.44,115.25 141.93,115.17 142.42,115.09C142.92,115.02 143.41,114.94 143.91,114.87C144.40,114.79 144.90,114.72 145.39,114.64C145.88,114.57 146.38,114.50 146.87,114.43C147.37,114.36 147.86,114.29 148.36,114.22C148.85,114.15 149.35,114.08 149.84,114.02C150.34,113.95 150.83,113.89 151.33,113.83C151.82,113.76 152.32,113.70 152.81,113.64C153.31,113.58 153.80,113.52 154.30,113.47C154.79,113.41 155.29,113.35 155.78,113.30C156.28,113.25 156.77,113.19 157.27,113.14C157.76,113.09 158.26,113.05 158.75,113.00C159.25,112.95 159.74,112.91 160.24,112.87C160.73,112.83 160.62,112.70 161.72,112.75C162.83,112.79 165.77,113.08 166.88,113.13C167.99,113.19 167.88,113.11 168.38,113.10C168.88,113.08 169.38,113.07 169.89,113.06C170.39,113.05 170.89,113.04 171.39,113.03C171.89,113.02 172.40,113.01 172.90,113.00C173.40,112.99 173.90,112.98 174.40,112.97C174.90,112.96 175.40,112.95 175.91,112.95C176.41,112.94 176.91,112.93 177.41,112.93C177.91,112.92 178.41,112.91 178.91,112.91C179.42,112.90 179.92,112.90 180.42,112.89C180.92,112.89 181.42,112.88 181.92,112.88C182.42,112.87 182.92,112.87 183.42,112.86C183.92,112.86 184.42,112.86 184.92,112.85C185.42,112.85 185.92,112.85 186.43,112.85C186.93,112.84 187.43,112.84 187.93,112.84C188.43,112.84 188.93,112.84 189.43,112.84C189.92,112.83 190.42,112.83 190.92,112.83C191.42,112.83 191.92,112.83 192.42,112.83C192.92,112.83 193.42,112.83 193.92,112.83C194.42,112.83 194.92,112.83 195.41,112.83C195.91,112.83 196.41,112.83 196.91,112.83C197.41,112.83 197.91,112.83 198.40,112.83C198.90,112.83 199.40,112.83 199.90,112.83C200.39,112.83 200.89,112.83 201.39,112.84C201.89,112.84 202.38,112.84 202.88,112.84C203.37,112.84 203.87,112.84 204.37,112.84C204.86,112.84 205.36,112.84 205.85,112.84C206.35,112.85 206.85,112.85 207.34,112.85C207.84,112.85 208.33,112.85 208.83,112.85C209.32,112.85 209.82,112.85 210.31,112.86C210.80,112.86 211.30,112.86 211.79,112.86C212.29,112.86 212.78,112.87 213.27,112.87C213.77,112.87 214.26,112.88 214.75,112.88C215.25,112.88 215.74,112.89 216.23,112.89C216.73,112.90 217.22,112.90 217.71,112.91C218.20,112.92 218.70,112.92 219.19,112.93C219.68,112.94 220.17,112.94 220.66,112.95C221.16,112.96 221.65,112.97 222.14,112.98C222.63,112.99 223.12,113.00 223.62,113.01C224.11,113.02 224.60,113.04 225.09,113.05C225.58,113.06 226.07,113.08 226.56,113.09C227.05,113.11 227.55,113.12 228.04,113.14C228.53,113.16 229.02,113.18 229.51,113.20C230.00,113.22 230.49,113.24 230.98,113.26C231.47,113.28 231.96,113.31 232.45,113.33C232.94,113.36 233.43,113.38 233.92,113.41C234.41,113.44 234.91,113.46 235.40,113.49C235.89,113.52 236.38,113.56 236.87,113.59C237.36,113.62 237.85,113.66 238.34,113.69C238.83,113.73 239.32,113.77 239.81,113.80C240.30,113.84 240.79,113.88 241.28,113.93C241.77,113.97 242.26,114.01 242.75,114.06C243.24,114.11 243.73,114.15 244.22,114.20C244.71,114.25 245.20,114.30 245.69,114.36C246.18,114.41 246.67,114.47 247.16,114.52C247.65,114.58 248.14,114.64 248.63,114.70C249.12,114.76 249.61,114.83 250.11,114.89C250.60,114.96 251.09,115.03 251.58,115.10C252.07,115.17 252.56,115.24 253.05,115.31C253.54,115.39 254.03,115.46 254.52,115.54C255.01,115.62 255.51,115.70 256.00,115.79C256.49,115.87 256.98,115.96 257.47,116.04C257.96,116.13 258.45,116.22 258.95,116.31C259.44,116.40 259.93,116.50 260.42,116.59C260.91,116.69 261.41,116.78 261.90,116.88C262.39,116.98 262.88,117.08 263.37,117.18C263.87,117.28 264.36,117.38 264.85,117.49C265.35,117.59 265.84,117.69 266.33,117.80C266.82,117.90 267.32,118.01 267.81,118.11C268.31,118.22 268.80,118.33 269.29,118.43C269.79,118.54 270.28,118.65 270.78,118.75C271.27,118.86 271.76,118.97 272.26,119.08C272.75,119.18 273.25,119.29 273.74,119.40C274.24,119.50 274.73,119.61 275.23,119.72C275.72,119.82 276.22,119.93 276.72,120.03C277.21,120.14 277.71,120.24 278.21,120.35C278.70,120.45 279.20,120.55 279.70,120.66C280.19,120.76 280.69,120.86 281.19,120.96C281.69,121.06 282.18,121.15 282.68,121.25C283.18,121.35 283.68,121.44 284.18,121.54C284.67,121.63 285.17,121.72 285.67,121.81C286.17,121.90 286.67,121.99 287.17,122.07C287.67,122.16 288.17,122.24 288.67,122.32C289.17,122.41 289.67,122.48 290.17,122.56C290.68,122.64 291.18,122.71 291.68,122.78C292.18,122.85 292.68,122.92 293.18,122.99C293.69,123.05 294.19,123.12 294.69,123.18C295.19,123.24 295.70,123.29 296.20,123.35C296.70,123.41 297.21,123.46 297.71,123.51C298.21,123.56 298.71,123.61 299.22,123.65C299.72,123.70 300.22,123.74 300.72,123.79C301.22,123.83 301.73,123.87 302.23,123.90C302.73,123.94 303.23,123.97 303.73,124.01C304.23,124.04 304.73,124.07 305.23,124.10C305.73,124.13 306.22,124.16 306.72,124.18C307.22,124.21 307.71,124.23 308.21,124.25C308.71,124.27 309.20,124.29 309.70,124.31C310.19,124.33 310.68,124.34 311.17,124.36C311.67,124.37 312.16,124.39 312.65,124.40C313.14,124.42 313.63,124.43 314.11,124.44C314.60,124.46 315.09,124.48 315.57,124.50C316.05,124.52 316.54,124.54 317.02,124.57C317.50,124.60 317.98,124.63 318.46,124.67C318.94,124.71 319.41,124.75 319.89,124.80C320.36,124.86 320.84,124.91 321.31,124.98C321.78,125.05 322.25,125.13 322.72,125.22C323.19,125.30 323.65,125.40 324.12,125.51C324.58,125.62 325.04,125.74 325.50,125.88C325.96,126.01 326.42,126.16 326.87,126.31C327.33,126.47 327.78,126.64 328.23,126.82C328.68,127.01 329.13,127.20 329.57,127.40C330.01,127.60 330.45,127.82 330.89,128.04C331.33,128.26 331.76,128.50 332.19,128.74C332.62,128.98 333.05,129.23 333.47,129.49C333.90,129.75 334.31,130.02 334.73,130.30C335.14,130.57 335.56,130.86 335.96,131.15C336.37,131.44 336.77,131.74 337.17,132.05C337.57,132.35 337.96,132.67 338.35,132.98C338.74,133.30 339.13,133.63 339.51,133.96C339.89,134.29 340.27,134.62 340.64,134.96C341.02,135.30 341.38,135.65 341.75,135.99C342.11,136.34 342.47,136.70 342.83,137.05C343.18,137.41 343.53,137.77 343.88,138.13C344.22,138.49 344.56,138.86 344.90,139.23C345.24,139.60 345.57,139.97 345.90,140.34C346.23,140.72 346.55,141.10 346.87,141.48C347.19,141.86 347.50,142.24 347.82,142.63C348.13,143.02 348.43,143.41 348.74,143.80C349.04,144.19 349.34,144.59 349.63,144.99C349.93,145.38 350.22,145.78 350.50,146.19C350.79,146.59 351.07,147.00 351.35,147.41C351.63,147.81 351.91,148.23 352.18,148.64C352.45,149.05 352.72,149.47 352.98,149.89C353.25,150.30 353.51,150.73 353.77,151.15C354.02,151.57 354.28,152.00 354.53,152.42C354.78,152.85 355.03,153.28 355.27,153.71C355.51,154.15 355.75,154.58 355.99,155.02C356.23,155.45 356.46,155.89 356.69,156.33C356.92,156.77 357.15,157.21 357.37,157.66C357.60,158.10 357.82,158.55 358.04,158.99C358.26,159.44 358.47,159.89 358.69,160.34C358.90,160.79 359.11,161.24 359.32,161.70C359.52,162.15 359.73,162.61 359.93,163.07C360.13,163.52 360.33,163.98 360.53,164.44C360.72,164.90 360.92,165.37 361.11,165.83C361.30,166.29 361.49,166.76 361.67,167.22C361.86,167.69 362.04,168.16 362.23,168.63C362.41,169.10 362.59,169.57 362.76,170.04C362.94,170.51 363.12,170.98 363.29,171.45C363.46,171.93 363.63,172.40 363.80,172.88C363.97,173.35 364.14,173.83 364.30,174.30C364.47,174.78 364.63,175.26 364.79,175.74C364.95,176.22 365.11,176.70 365.27,177.18C365.43,177.66 365.58,178.14 365.74,178.62C365.89,179.10 366.04,179.58 366.19,180.07C366.34,180.55 366.49,181.03 366.64,181.52C366.79,182.00 366.93,182.48 367.08,182.97C367.22,183.45 367.37,183.94 367.51,184.42C367.65,184.91 367.79,185.39 367.93,185.88C368.07,186.37 368.21,186.85 368.35,187.34C368.49,187.82 368.62,188.31 368.76,188.80C368.89,189.28 369.03,189.77 369.16,190.26C369.29,190.74 369.43,191.23 369.56,191.72C369.69,192.20 369.82,192.69 369.95,193.18C370.08,193.66 370.21,194.15 370.34,194.63C370.47,195.12 370.60,195.60 370.72,196.09C370.85,196.57 370.98,197.06 371.11,197.54C371.23,198.03 371.36,198.51 371.48,198.99C371.61,199.48 371.73,199.96 371.86,200.44C371.99,200.93 372.11,201.41 372.23,201.89C372.36,202.37 372.48,202.85 372.61,203.33C372.73,203.81 372.86,204.29 372.98,204.76C373.11,205.24 373.23,205.72 373.36,206.19C373.48,206.67 373.60,207.15 373.73,207.62C373.85,208.09 373.98,208.57 374.10,209.04C374.23,209.51 374.36,209.98 374.48,210.45C374.61,210.92 374.73,211.39 374.86,211.86C374.99,212.32 375.11,212.79 375.24,213.26C375.37,213.72 375.50,214.18 375.63,214.65C375.76,215.11 375.89,215.57 376.02,216.03C376.15,216.49 376.28,216.94 376.41,217.40C376.54,217.86 376.74,218.53 376.81,218.76" stroke="#1212c4" stroke-width="1.7" stroke-dasharray="5.6 2.6" stroke-dashoffset="0"/>
<path d="M55.17,95.62C55.38,95.75 56.02,96.14 56.44,96.40C56.87,96.66 57.29,96.91 57.72,97.17C58.15,97.42 58.58,97.67 59.02,97.92C59.45,98.17 59.88,98.42 60.32,98.67C60.75,98.91 61.19,99.16 61.63,99.40C62.07,99.64 62.51,99.88 62.95,100.11C63.40,100.35 63.84,100.58 64.29,100.81C64.73,101.04 65.18,101.27 65.63,101.49C66.08,101.72 66.53,101.94 66.98,102.16C67.43,102.38 67.89,102.59 68.34,102.81C68.80,103.02 69.25,103.23 69.71,103.44C70.17,103.65 70.63,103.85 71.09,104.05C71.55,104.25 72.01,104.45 72.47,104.64C72.93,104.84 73.40,105.03 73.86,105.21C74.33,105.40 74.80,105.58 75.27,105.76C75.73,105.94 76.20,106.12 76.67,106.29C77.14,106.47 77.62,106.64 78.09,106.80C78.56,106.97 79.04,107.13 79.51,107.28C79.99,107.44 80.46,107.60 80.94,107.74C81.42,107.89 81.89,108.04 82.37,108.18C82.85,108.32 83.33,108.46 83.81,108.59C84.30,108.72 84.78,108.85 85.26,108.98C85.74,109.10 86.23,109.22 86.71,109.33C87.20,109.45 87.68,109.56 88.17,109.67C88.66,109.77 89.14,109.87 89.63,109.97C90.12,110.07 90.61,110.16 91.10,110.25C91.59,110.33 92.08,110.41 92.57,110.49C93.06,110.57 93.55,110.64 94.05,110.71C94.54,110.78 95.03,110.85 95.52,110.91C96.02,110.97 96.51,111.03 97.01,111.08C97.50,111.13 98.00,111.18 98.49,111.23C98.99,111.27 99.49,111.31 99.98,111.35C100.48,111.39 100.98,111.43 101.48,111.46C101.97,111.49 102.47,111.52 102.97,111.55C103.47,111.57 103.97,111.60 104.47,111.62C104.97,111.64 105.47,111.65 105.97,111.67C106.47,111.69 106.97,111.70 107.47,111.71C107.97,111.72 108.47,111.73 108.97,111.73C109.47,111.74 109.98,111.75 110.48,111.75C110.98,111.75 111.48,111.75 111.98,111.75C112.48,111.75 112.99,111.75 113.49,111.74C113.99,111.74 114.49,111.73 115.00,111.73C115.50,111.72 116.00,111.71 116.50,111.71C117.00,111.70 117.51,111.69 118.01,111.68C118.51,111.67 119.01,111.66 119.52,111.65C120.02,111.63 120.52,111.62 121.02,111.61C121.52,111.60 122.03,111.59 122.53,111.57C123.03,111.56 123.53,111.55 124.03,111.54C124.53,111.52 125.04,111.51 125.54,111.50C126.04,111.48 126.54,111.47 127.04,111.45C127.54,111.44 128.04,111.43 128.54,111.41C129.04,111.40 129.55,111.38 130.05,111.37C130.55,111.35 131.05,111.34 131.55,111.32C132.05,111.31 132.55,111.29 133.05,111.27C133.55,111.26 134.05,111.24 134.55,111.23C135.05,111.21 135.55,111.19 136.05,111.18C136.55,111.16 137.05,111.15 137.55,111.13C138.05,111.11 138.55,111.10 139.05,111.08C139.55,111.06 140.05,111.05 140.55,111.03C141.05,111.01 141.55,110.99 142.05,110.98C142.55,110.96 143.04,110.94 143.54,110.93C144.04,110.91 144.54,110.89 145.04,110.87C145.54,110.86 146.04,110.84 146.54,110.82C147.04,110.80 147.54,110.79 148.03,110.77C148.53,110.75 149.03,110.73 149.53,110.72C150.03,110.70 150.53,110.68 151.03,110.66C151.53,110.65 152.02,110.63 152.52,110.61C153.02,110.59 153.52,110.58 154.02,110.56C154.52,110.54 155.01,110.52 155.51,110.51C156.01,110.49 156.51,110.47 157.01,110.46C157.51,110.44 158.00,110.42 158.50,110.41C159.00,110.39 159.50,110.37 160.00,110.36C160.50,110.34 160.99,110.32 161.49,110.31C161.99,110.29 162.49,110.27 162.99,110.26C163.48,110.24 163.98,110.23 164.48,110.21C164.98,110.19 165.48,110.18 165.97,110.16C166.47,110.15 166.97,110.13 167.47,110.12C167.97,110.10 168.46,110.09 168.96,110.07C169.46,110.06 169.96,110.04 170.46,110.03C170.95,110.02 171.45,110.00 171.95,109.99C172.45,109.98 172.94,109.96 173.44,109.95C173.94,109.94 174.44,109.92 174.94,109.91C175.43,109.90 175.93,109.89 176.43,109.87C176.93,109.86 177.43,109.85 177.92,109.84C178.42,109.83 178.92,109.82 179.42,109.81C179.91,109.79 180.41,109.78 180.91,109.77C181.41,109.76 181.91,109.75 182.40,109.75C182.90,109.74 183.40,109.73 183.90,109.72C184.40,109.71 184.90,109.70 185.39,109.69C185.89,109.69 186.39,109.68 186.89,109.67C187.39,109.67 187.88,109.66 188.38,109.65C188.88,109.65 189.38,109.64 189.88,109.64C190.38,109.63 190.87,109.63 191.37,109.62C191.87,109.62 192.37,109.61 192.87,109.61C193.37,109.61 193.86,109.60 194.36,109.60C194.86,109.60 195.36,109.60 195.86,109.59C196.36,109.59 196.86,109.59 197.35,109.59C197.85,109.59 198.35,109.59 198.85,109.59C199.35,109.59 199.85,109.59 200.35,109.60C200.85,109.60 201.35,109.60 201.85,109.60C202.34,109.61 202.84,109.61 203.34,109.61C203.84,109.62 204.34,109.62 204.84,109.63C205.34,109.63 205.84,109.64 206.34,109.65C206.84,109.65 207.34,109.66 207.84,109.67C208.34,109.67 208.84,109.68 209.34,109.69C209.84,109.70 210.34,109.71 210.84,109.72C211.34,109.73 211.84,109.74 212.34,109.75C212.84,109.76 213.34,109.77 213.84,109.78C214.34,109.79 214.84,109.80 215.34,109.81C215.84,109.82 216.34,109.83 216.84,109.85C217.34,109.86 217.84,109.87 218.34,109.88C218.84,109.89 219.34,109.91 219.84,109.92C220.34,109.93 220.84,109.94 221.34,109.96C221.84,109.97 222.34,109.98 222.85,109.99C223.35,110.01 223.85,110.02 224.35,110.03C224.85,110.04 225.35,110.06 225.85,110.07C226.35,110.08 226.85,110.09 227.35,110.10C227.85,110.12 228.35,110.13 228.86,110.14C229.36,110.15 229.86,110.16 230.36,110.17C230.86,110.19 231.36,110.20 231.86,110.21C232.36,110.22 232.86,110.23 233.37,110.24C233.87,110.25 234.37,110.26 234.87,110.27C235.37,110.28 235.87,110.29 236.37,110.29C236.87,110.30 237.37,110.31 237.88,110.32C238.38,110.32 238.88,110.33 239.38,110.34C239.88,110.34 240.38,110.35 240.88,110.35C241.38,110.36 241.88,110.36 242.39,110.37C242.89,110.37 243.39,110.37 243.89,110.38C244.39,110.38 244.89,110.38 245.39,110.38C245.89,110.38 246.40,110.38 246.90,110.38C247.40,110.38 247.90,110.38 248.40,110.38C248.90,110.37 249.40,110.37 249.90,110.37C250.40,110.36 250.91,110.36 251.41,110.35C251.91,110.35 252.41,110.34 252.91,110.33C253.41,110.32 253.91,110.31 254.41,110.30C254.91,110.29 255.41,110.28 255.92,110.27C256.42,110.26 256.92,110.24 257.42,110.23C257.92,110.21 258.42,110.20 258.92,110.18C259.42,110.16 259.92,110.14 260.42,110.13C260.92,110.11 261.42,110.08 261.93,110.06C262.43,110.04 262.93,110.02 263.43,109.99C263.93,109.97 264.43,109.95 264.93,109.92C265.43,109.90 265.93,109.87 266.43,109.85C266.93,109.82 267.43,109.79 267.93,109.77C268.43,109.74 268.93,109.72 269.43,109.69C269.93,109.67 270.43,109.64 270.93,109.62C271.43,109.60 271.93,109.57 272.43,109.55C272.93,109.53 273.43,109.51 273.93,109.49C274.43,109.47 274.93,109.45 275.43,109.43C275.93,109.42 276.43,109.40 276.93,109.39C277.43,109.38 277.93,109.36 278.43,109.35C278.93,109.34 279.43,109.34 279.93,109.33C280.43,109.33 280.93,109.32 281.43,109.32C281.93,109.32 282.42,109.33 282.92,109.33C283.42,109.34 283.92,109.35 284.42,109.36C284.92,109.37 285.42,109.39 285.92,109.40C286.42,109.42 286.91,109.45 287.41,109.47C287.91,109.49 288.41,109.52 288.91,109.55C289.41,109.58 289.90,109.61 290.40,109.64C290.90,109.68 291.40,109.71 291.90,109.75C292.39,109.78 292.89,109.82 293.39,109.86C293.89,109.90 294.39,109.94 294.88,109.98C295.38,110.02 295.88,110.06 296.38,110.10C296.87,110.14 297.37,110.18 297.87,110.22C298.36,110.26 298.86,110.30 299.36,110.34C299.86,110.38 300.35,110.42 300.85,110.46C301.35,110.49 301.84,110.53 302.34,110.56C302.84,110.60 303.33,110.63 303.83,110.66C304.32,110.69 304.82,110.72 305.32,110.75C305.81,110.77 306.31,110.80 306.80,110.82C307.30,110.84 307.80,110.86 308.29,110.87C308.79,110.89 309.28,110.90 309.78,110.91C310.27,110.92 310.77,110.93 311.26,110.93C311.76,110.93 312.25,110.93 312.75,110.93C313.24,110.92 313.74,110.92 314.23,110.90C314.73,110.89 315.23,110.88 315.72,110.86C316.22,110.84 316.71,110.82 317.20,110.79C317.70,110.76 318.19,110.73 318.69,110.69C319.18,110.66 319.68,110.62 320.17,110.57C320.67,110.53 321.16,110.48 321.66,110.42C322.15,110.37 322.65,110.31 323.14,110.24C323.64,110.18 324.13,110.10 324.63,110.03C325.12,109.96 325.62,109.88 326.11,109.80C326.61,109.72 327.10,109.64 327.60,109.56C328.10,109.48 328.59,109.39 329.09,109.31C329.58,109.23 330.08,109.15 330.57,109.07C331.07,108.99 331.56,108.91 332.06,108.84C332.55,108.76 333.05,108.69 333.55,108.63C334.04,108.56 334.54,108.50 335.03,108.45C335.53,108.39 336.03,108.34 336.52,108.30C337.02,108.26 337.52,108.22 338.01,108.19C338.51,108.16 339.01,108.14 339.50,108.12C340.00,108.11 340.50,108.10 340.99,108.09C341.49,108.09 341.99,108.09 342.49,108.10C342.98,108.11 343.48,108.13 343.98,108.15C344.48,108.18 344.97,108.21 345.47,108.24C345.97,108.28 346.47,108.32 346.97,108.38C347.47,108.43 347.97,108.49 348.46,108.55C348.96,108.62 349.46,108.69 349.96,108.77C350.46,108.85 350.96,108.94 351.46,109.04C351.96,109.13 352.46,109.23 352.96,109.35C353.46,109.46 353.96,109.57 354.46,109.70C354.97,109.83 355.47,109.96 355.97,110.10C356.47,110.25 356.97,110.40 357.47,110.55C357.98,110.71 358.48,110.88 358.98,111.05C359.48,111.22 359.98,111.40 360.49,111.58C360.99,111.76 361.49,111.95 361.99,112.13C362.48,112.31 362.98,112.49 363.48,112.67C363.97,112.84 364.46,113.02 364.95,113.18C365.44,113.35 365.93,113.51 366.41,113.66C366.90,113.80 367.38,113.94 367.85,114.07C368.33,114.19 368.80,114.31 369.27,114.40C369.74,114.50 370.20,114.58 370.66,114.64C371.12,114.70 371.57,114.74 372.01,114.76C372.46,114.77 372.90,114.77 373.33,114.74C373.77,114.71 374.19,114.65 374.61,114.57C375.03,114.49 375.44,114.38 375.85,114.25C376.25,114.11 376.64,113.95 377.03,113.77C377.41,113.59 377.79,113.38 378.15,113.14C378.51,112.91 378.86,112.65 379.20,112.37C379.54,112.09 379.86,111.79 380.17,111.46C380.49,111.14 380.78,110.79 381.07,110.42C381.36,110.05 381.63,109.66 381.89,109.26C382.15,108.86 382.40,108.43 382.64,107.99C382.88,107.56 383.11,107.10 383.32,106.64C383.54,106.17 383.75,105.69 383.95,105.21C384.14,104.72 384.33,104.22 384.51,103.72C384.69,103.21 384.86,102.70 385.02,102.18C385.18,101.66 385.33,101.14 385.48,100.61C385.62,100.08 385.76,99.55 385.89,99.02C386.02,98.49 386.15,97.96 386.27,97.43C386.38,96.91 386.50,96.38 386.60,95.86C386.71,95.33 386.81,94.81 386.91,94.29C387.01,93.78 387.10,93.26 387.19,92.75C387.28,92.23 387.36,91.72 387.44,91.22C387.52,90.71 387.60,90.20 387.68,89.70C387.76,89.20 387.83,88.70 387.90,88.21C387.97,87.71 388.04,87.22 388.11,86.73C388.18,86.24 388.25,85.76 388.32,85.27C388.39,84.79 388.46,84.31 388.53,83.83C388.59,83.35 388.66,82.87 388.73,82.40C388.80,81.92 388.88,81.44 388.95,80.97C389.02,80.49 389.10,80.02 389.18,79.55C389.26,79.07 389.34,78.60 389.42,78.13C389.50,77.65 389.59,77.18 389.68,76.70C389.78,76.23 389.93,75.51 389.97,75.27" stroke="#1212c4" stroke-width="1.7" stroke-dasharray="5.66 2.6" stroke-dashoffset="0"/>
</g>
<rect x="55.2" y="4.05" width="342.40000000000003" height="211.64999999999998" fill="none" stroke="#000" stroke-width="1.3"/>
<path d="M55.2,215.70h4.2M397.6,215.70h-4.2M55.2,208.65h2.5M397.6,208.65h-2.5M55.2,201.59h2.5M397.6,201.59h-2.5M55.2,194.54h2.5M397.6,194.54h-2.5M55.2,187.48h2.5M397.6,187.48h-2.5M55.2,180.43h4.2M397.6,180.43h-4.2M55.2,173.37h2.5M397.6,173.37h-2.5M55.2,166.32h2.5M397.6,166.32h-2.5M55.2,159.26h2.5M397.6,159.26h-2.5M55.2,152.21h2.5M397.6,152.21h-2.5M55.2,145.15h4.2M397.6,145.15h-4.2M55.2,138.10h2.5M397.6,138.10h-2.5M55.2,131.04h2.5M397.6,131.04h-2.5M55.2,123.99h2.5M397.6,123.99h-2.5M55.2,116.93h2.5M397.6,116.93h-2.5M55.2,109.88h4.2M397.6,109.88h-4.2M55.2,102.82h2.5M397.6,102.82h-2.5M55.2,95.77h2.5M397.6,95.77h-2.5M55.2,88.71h2.5M397.6,88.71h-2.5M55.2,81.65h2.5M397.6,81.65h-2.5M55.2,74.60h4.2M397.6,74.60h-4.2M55.2,67.55h2.5M397.6,67.55h-2.5M55.2,60.49h2.5M397.6,60.49h-2.5M55.2,53.44h2.5M397.6,53.44h-2.5M55.2,46.38h2.5M397.6,46.38h-2.5M55.2,39.33h4.2M397.6,39.33h-4.2M55.2,32.27h2.5M397.6,32.27h-2.5M55.2,25.22h2.5M397.6,25.22h-2.5M55.2,18.16h2.5M397.6,18.16h-2.5M55.2,11.11h2.5M397.6,11.11h-2.5M55.2,4.05h4.2M397.6,4.05h-4.2M64.24,215.7v-2.5M64.24,4.05v2.5M77.58,215.7v-2.5M77.58,4.05v2.5M87.05,215.7v-2.5M87.05,4.05v2.5M94.40,215.7v-4.2M94.40,4.05v4.2M117.22,215.7v-2.5M117.22,4.05v2.5M140.04,215.7v-2.5M140.04,4.05v2.5M153.38,215.7v-2.5M153.38,4.05v2.5M162.85,215.7v-2.5M162.85,4.05v2.5M170.20,215.7v-4.2M170.20,4.05v4.2M193.02,215.7v-2.5M193.02,4.05v2.5M215.84,215.7v-2.5M215.84,4.05v2.5M229.18,215.7v-2.5M229.18,4.05v2.5M238.65,215.7v-2.5M238.65,4.05v2.5M246.00,215.7v-4.2M246.00,4.05v4.2M268.82,215.7v-2.5M268.82,4.05v2.5M291.64,215.7v-2.5M291.64,4.05v2.5M304.98,215.7v-2.5M304.98,4.05v2.5M314.45,215.7v-2.5M314.45,4.05v2.5M321.80,215.7v-4.2M321.80,4.05v4.2M344.62,215.7v-2.5M344.62,4.05v2.5M367.44,215.7v-2.5M367.44,4.05v2.5M380.78,215.7v-2.5M380.78,4.05v2.5M390.25,215.7v-2.5M390.25,4.05v2.5M397.60,215.7v-4.2M397.60,4.05v4.2" stroke="#000" stroke-width="1.1" fill="none"/>
<rect x="94.85" y="148.3" width="160.75" height="53.69999999999999" fill="#fff" stroke="#000" stroke-width="0.8"/>
<path d="M109,155.8H141" stroke="#be1216" stroke-width="1.5"/>
<path d="M109,173.6H140" stroke="#1212c4" stroke-width="1.6" stroke-dasharray="5.6 2.7"/>
<g font-family="Liberation Sans, sans-serif" fill="#000" stroke="#000" stroke-width="0.3" style="font-kerning:none">
<text x="201.1" y="162.2" font-size="14" letter-spacing="0.15" text-anchor="middle">I.PDF+90% unc.</text>
<text x="201.2" y="179.9" font-size="14" letter-spacing="0.17" text-anchor="middle">F.PDF+90% unc.</text>
<text x="209" y="32.1" font-size="14" text-anchor="middle">HERAPDF1.5</text>
<text x="175.3" y="59.8" font-size="14" letter-spacing="0.37">Q=8. GeV</text>
<text x="52.5" y="13.00" font-size="18" text-anchor="end">1.3</text>
<text x="52.5" y="48.27" font-size="18" text-anchor="end">1.2</text>
<text x="52.5" y="83.54" font-size="18" text-anchor="end">1.1</text>
<text x="52.5" y="118.81" font-size="18" text-anchor="end">1.0</text>
<text x="52.5" y="154.08" font-size="18" text-anchor="end">0.9</text>
<text x="52.5" y="189.35" font-size="18" text-anchor="end">0.8</text>
<text x="52.5" y="224.62" font-size="18" text-anchor="end">0.7</text>
<text x="77.70" y="241.1" font-size="17.7">10<tspan font-size="12.8" dx="0" dy="-7.8">−4</tspan></text>
<text x="153.50" y="241.1" font-size="17.7">10<tspan font-size="12.8" dx="0" dy="-7.8">−3</tspan></text>
<text x="229.30" y="241.1" font-size="17.7">10<tspan font-size="12.8" dx="0" dy="-7.8">−2</tspan></text>
<text x="305.10" y="241.1" font-size="17.7">10<tspan font-size="12.8" dx="0" dy="-7.8">−1</tspan></text>
<text x="397.60" y="241.1" font-size="17.7" text-anchor="middle">1</text>
<text x="226.8" y="275.8" font-size="20" text-anchor="middle">x</text>
<text transform="translate(15,110) rotate(-90)" font-size="20" letter-spacing="0.2" text-anchor="middle">Normalized g(x)</text>
</g></svg>
</body></html>
